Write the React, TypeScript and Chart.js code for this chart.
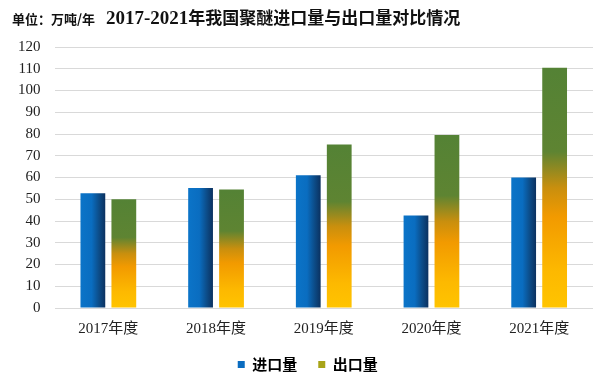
import React, { useEffect, useRef } from "react";
import { Chart, registerables } from "chart.js";

Chart.register(...registerables);

const categories = ["2017年度", "2018年度", "2019年度", "2020年度", "2021年度"];
const importValues = [52.8, 55.2, 61, 42.5, 60];
const exportValues = [50, 54.5, 75.2, 79.5, 110.5];
const seriesNames = ["进口量", "出口量"];
const yTicks = [0, 10, 20, 30, 40, 50, 60, 70, 80, 90, 100, 110, 120];

const CAT_PCT = 0.575;
const BAR_PCT = 0.8;

function importBg(ctx: any) {
  const chart = ctx.chart;
  const { chartArea, scales } = chart;
  if (!chartArea || ctx.type !== "data") return "#0070C0";
  const x = scales.x;
  const cw = x.width / categories.length;
  const slot = (cw * CAT_PCT) / 2;
  const center = x.getPixelForValue(ctx.dataIndex) - slot / 2;
  const bw = slot * BAR_PCT;
  const g = chart.ctx.createLinearGradient(center - bw / 2, 0, center + bw / 2, 0);
  g.addColorStop(0, "#0B74C8");
  g.addColorStop(0.45, "#0A6DC0");
  g.addColorStop(0.75, "#0C4C88");
  g.addColorStop(1, "#0B3160");
  return g;
}

function exportBg(ctx: any) {
  const chart = ctx.chart;
  const { chartArea, scales } = chart;
  if (!chartArea || ctx.type !== "data") return "#9AA020";
  const y = scales.y;
  const base = y.getPixelForValue(0);
  const top = y.getPixelForValue(exportValues[ctx.dataIndex]);
  const g = chart.ctx.createLinearGradient(0, base, 0, top);
  g.addColorStop(0, "#FFC400");
  g.addColorStop(0.15, "#FDB900");
  g.addColorStop(0.38, "#F29A00");
  g.addColorStop(0.5, "#C98F0E");
  g.addColorStop(0.65, "#5E8432");
  g.addColorStop(1, "#548235");
  return g;
}

export default function App() {
  const ref = useRef<HTMLCanvasElement | null>(null);
  useEffect(() => {
    document.body.style.margin = "0";
    if (!ref.current) return;
    const chart = new Chart(ref.current, {
      type: "bar",
      data: {
        labels: categories,
        datasets: [
          {
            label: seriesNames[0],
            data: importValues,
            backgroundColor: importBg as any,
            categoryPercentage: CAT_PCT,
            barPercentage: BAR_PCT,
          },
          {
            label: seriesNames[1],
            data: exportValues,
            backgroundColor: exportBg as any,
            categoryPercentage: CAT_PCT,
            barPercentage: BAR_PCT,
          },
        ],
      },
      options: {
        animation: false,
        responsive: false,
        maintainAspectRatio: false,
        layout: { padding: { top: 47, left: 4, right: 12, bottom: -5 } },
        plugins: {
          title: { display: false },
          tooltip: { enabled: false },
          legend: {
            position: "bottom",
            labels: {
              boxWidth: 7,
              boxHeight: 7,
              padding: 4,
              color: "#222",
              font: { family: "'Noto Sans CJK SC'", size: 15, weight: "bold" },
              generateLabels: () => [
                { text: "", fillStyle: "rgba(0,0,0,0)", strokeStyle: "rgba(0,0,0,0)", lineWidth: 0, datasetIndex: -1 },
                { text: seriesNames[0] + "     ", fillStyle: "#0A6CC0", strokeStyle: "rgba(0,0,0,0)", lineWidth: 0, datasetIndex: 0 },
                { text: seriesNames[1], fillStyle: "#A8A418", strokeStyle: "rgba(0,0,0,0)", lineWidth: 0, datasetIndex: 1 },
              ] as any,
            },
          },
        },
        scales: {
          x: {
            grid: { display: false },
            border: { display: false },
            afterFit: (axis: any) => {
              axis.height += 11;
            },
            ticks: {
              color: "#222",
              padding: 4,
              font: { family: "'Liberation Serif', 'Noto Sans CJK SC'", size: 15 },
            },
          },
          y: {
            min: 0,
            max: 120,
            afterBuildTicks: (axis: any) => {
              axis.ticks = yTicks.map((v) => ({ value: v }));
            },
            grid: { color: "#D9D9D9", lineWidth: 1, drawTicks: false },
            border: { display: false },
            ticks: {
              autoSkip: false,
              stepSize: 10,
              color: "#222",
              padding: 14,
              font: { family: "'Liberation Serif'", size: 15 },
            },
          },
        },
      },
    });
    return () => chart.destroy();
  }, []);

  return (
    <div style={{ position: "relative", width: 605, height: 377, background: "#fff" }}>
      <canvas ref={ref} width={605} height={377} style={{ position: "absolute", left: 0, top: 0 }} />
      <div
        style={{
          position: "absolute",
          left: 12,
          top: 4,
          whiteSpace: "nowrap",
          color: "#111",
          display: "flex",
          alignItems: "baseline",
        }}
      >
        <span style={{ fontFamily: "'Noto Sans CJK SC'", fontWeight: "bold", fontSize: 13 }}>单位：万吨/年</span>
        <span style={{ marginLeft: 11 }}>
          <span style={{ fontFamily: "'Liberation Serif'", fontWeight: "bold", fontSize: 19 }}>2017-2021</span>
          <span style={{ fontFamily: "'Noto Sans CJK SC'", fontWeight: 600, fontSize: 17 }}>年我国聚醚进口量与出口量对比情况</span>
        </span>
      </div>
    </div>
  );
}
